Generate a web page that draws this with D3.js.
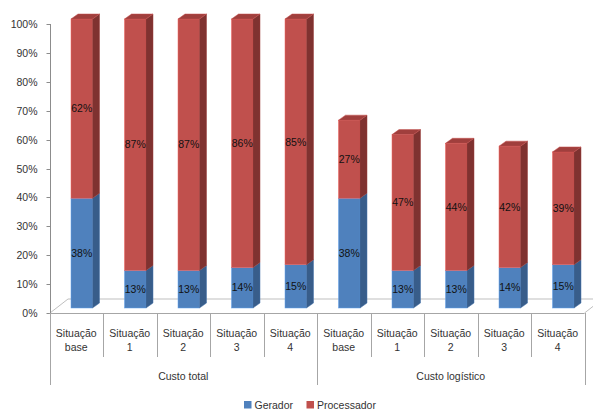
<!DOCTYPE html>
<html>
<head>
<meta charset="utf-8">
<script src="https://cdn.jsdelivr.net/npm/d3@7"></script>
<style>
  body { margin: 0; background: #fff; }
  svg text { font-family: "Liberation Sans", Arial, sans-serif; }
</style>
</head>
<body>
<svg id="chart" width="593" height="410"></svg>
<script>
'use strict';

// data
const groups = ['Custo total', 'Custo logístico'];
const situations = [['Situação', 'base'], ['Situação', '1'], ['Situação', '2'], ['Situação', '3'], ['Situação', '4']];
const geradorTotal = [38, 13, 13, 14, 15];
const processadorTotal = [62, 87, 87, 86, 85];
const geradorLogistico = [38, 13, 13, 14, 15];
const processadorLogistico = [27, 47, 44, 42, 39];
const yTicks = [0, 10, 20, 30, 40, 50, 60, 70, 80, 90, 100];
const seriesNames = ['Gerador', 'Processador'];

const colors = {
    Gerador: {front: '#4f81bd', side: '#385d8a', top: '#4472a8'},
    Processador: {front: '#c0504d', side: '#7f3230', top: '#a03f3d'}
};

// rows: one per bar
const rows = [];
groups.forEach(function(g, gi) {
    const ger = gi === 0 ? geradorTotal : geradorLogistico;
    const pro = gi === 0 ? processadorTotal : processadorLogistico;
    situations.forEach(function(s, si) {
        rows.push({id: gi + '-' + si, group: g, label: s, Gerador: ger[si], Processador: pro[si]});
    });
});

const svg = d3.select('#chart');

const x = d3.scaleBand()
    .domain(rows.map(function(d) {return d.id;}))
    .range([49.5, 584.5])
    .padding(0);

const y = d3.scaleLinear().domain([0, 100]).range([313, 24]);

const bw = x.bandwidth();
const barOff = 21.5, barW = 21.5;   // front face inside band
const dx = 7, dy = -5;              // bar depth
const bx = -7 + dx, by = -5;        // bar front plane relative to axis plane
const fdx = 18, fdy = -14;          // floor depth

// floor
const x0 = x.range()[0], x1 = x.range()[1];
svg.append('path')
    .attr('d', 'M' + [x0 + 0.5, y(0)] + 'L' + [x0 + 0.5 + fdx, y(0) + fdy] + 'L' + [x1 + fdx, y(0) + fdy] + 'L' + [x1, y(0)])
    .attr('fill', 'none')
    .attr('stroke', '#bfbfbf')
    .attr('stroke-width', 1);

// value axis
const yAxis = svg.append('g').attr('transform', 'translate(50.5,0)');
yAxis.append('line')
    .attr('y1', y(100)).attr('y2', y(0))
    .attr('stroke', '#8c8c8c');
yAxis.selectAll('.tick')
    .data(yTicks)
    .enter()
    .append('g')
    .attr('class', 'tick')
    .attr('transform', function(d) {return 'translate(0,' + (Math.round(y(d)) + 0.5) + ')';})
    .each(function(d) {
        const t = d3.select(this);
        t.append('line').attr('x1', -4).attr('x2', 0).attr('stroke', '#8c8c8c');
        t.append('text')
            .attr('x', -13)
            .attr('dy', '0.35em')
            .attr('text-anchor', 'end')
            .attr('font-size', '10.5px')
            .attr('fill', '#333')
            .text(d + '%');
    });

// bars
const stack = d3.stack().keys(seriesNames)(rows);
const barG = svg.append('g');

rows.forEach(function(row, i) {
    const g = barG.append('g');
    const xf = x(row.id) + barOff;
    stack.forEach(function(layer, li) {
        const seg = layer[i];
        const name = layer.key;
        const c = colors[name];
        const yb = y(seg[0]) + by, yt = y(seg[1]) + by;
        // front
        g.append('rect')
            .attr('x', xf).attr('y', yt)
            .attr('width', barW).attr('height', yb - yt)
            .attr('fill', c.front)
            .attr('stroke', d3.color(c.front).brighter(0.6))
            .attr('stroke-width', 0.5);
        // side
        g.append('path')
            .attr('d', 'M' + [xf + barW, yb] + 'L' + [xf + barW + dx, yb + dy] + 'L' + [xf + barW + dx, yt + dy] + 'L' + [xf + barW, yt] + 'Z')
            .attr('fill', c.side)
            .attr('stroke', d3.color(c.side).brighter(0.6))
            .attr('stroke-width', 0.5);
        if (li === stack.length - 1) {
            g.append('path')
                .attr('d', 'M' + [xf, yt] + 'L' + [xf + dx, yt + dy] + 'L' + [xf + barW + dx, yt + dy] + 'L' + [xf + barW, yt] + 'Z')
                .attr('fill', c.top)
                .attr('stroke', d3.color(c.top).brighter(0.6))
                .attr('stroke-width', 0.5);
        }
        // data label
        g.append('text')
            .attr('x', xf + barW / 2)
            .attr('y', (yb + yt) / 2)
            .attr('dy', '0.35em')
            .attr('text-anchor', 'middle')
            .attr('font-size', '10.5px')
            .attr('fill', '#111')
            .text(row[name] + '%');
    });
});

// category axis
const catG = svg.append('g');
const base = y(0);
rows.forEach(function(row, i) {
    const xs = x(row.id);
    const longTick = i % situations.length === 0;
    catG.append('line')
        .attr('x1', Math.round(xs) + 0.5).attr('x2', Math.round(xs) + 0.5)
        .attr('y1', base).attr('y2', longTick ? 385 : 357)
        .attr('stroke', '#a6a6a6');
    const t = catG.append('text')
        .attr('text-anchor', 'middle')
        .attr('font-size', '10.5px')
        .attr('fill', '#333');
    row.label.forEach(function(line, li) {
        t.append('tspan')
            .attr('x', xs + bw / 2)
            .attr('y', 337 + li * 13.5)
            .text(line);
    });
});
catG.append('line')
    .attr('x1', Math.round(x1) + 0.5).attr('x2', Math.round(x1) + 0.5)
    .attr('y1', base).attr('y2', 385)
    .attr('stroke', '#a6a6a6');
catG.append('line')
    .attr('x1', x0).attr('x2', x1)
    .attr('y1', Math.round(base) + 0.5).attr('y2', Math.round(base) + 0.5)
    .attr('stroke', '#a6a6a6');

groups.forEach(function(g, gi) {
    const first = x(gi + '-0');
    const last = x(gi + '-' + (situations.length - 1)) + bw;
    catG.append('text')
        .attr('x', (first + last) / 2)
        .attr('y', 380)
        .attr('text-anchor', 'middle')
        .attr('font-size', '10.5px')
        .attr('fill', '#333')
        .text(g);
});

// legend
const legendX = [244, 306.5];
const legend = svg.append('g');
seriesNames.forEach(function(name, i) {
    legend.append('rect')
        .attr('x', legendX[i]).attr('y', 401)
        .attr('width', 7.5).attr('height', 7.5)
        .attr('fill', colors[name].front);
    legend.append('text')
        .attr('x', legendX[i] + 10.5)
        .attr('y', 409)
        .attr('font-size', '10.5px')
        .attr('fill', '#333')
        .text(name);
});
</script>
</body>
</html>
